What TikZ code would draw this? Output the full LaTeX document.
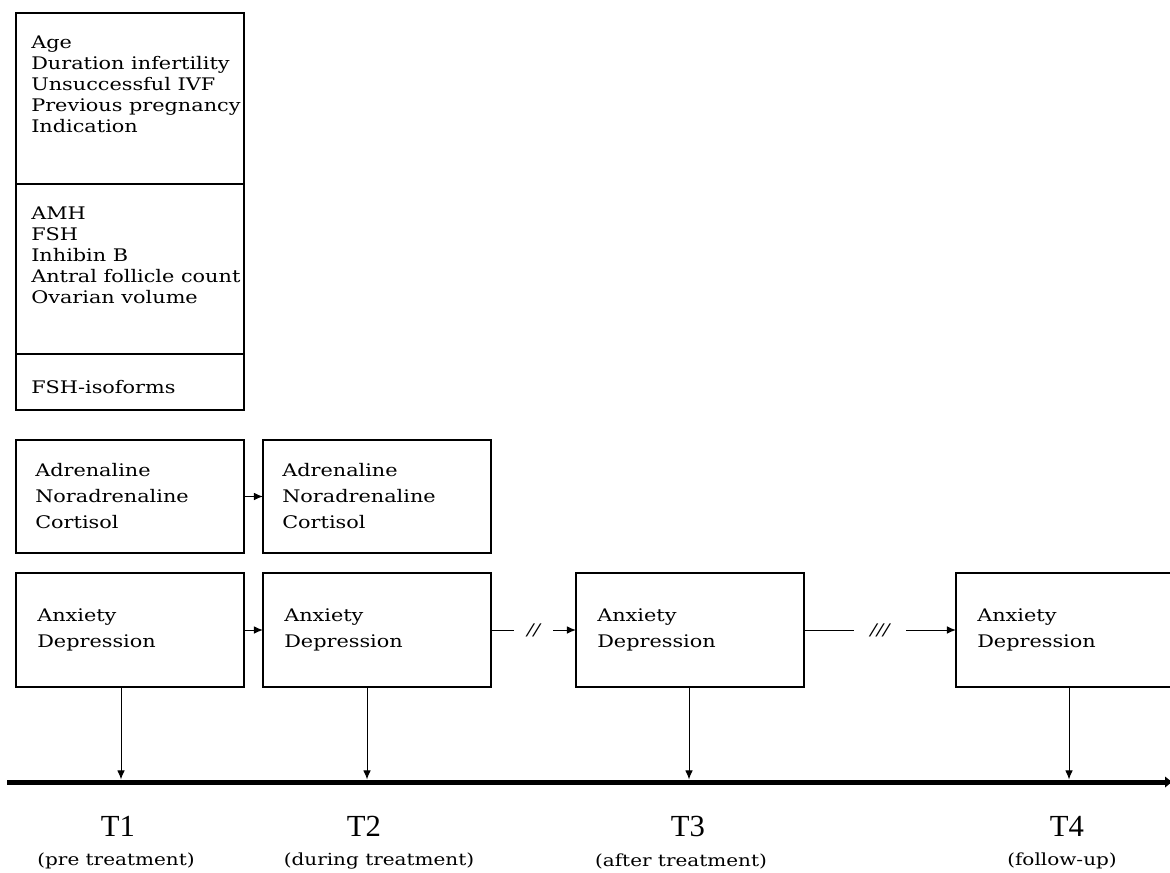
\documentclass[tikz,border=0pt]{standalone}
\usepackage{fontspec}
\setmainfont[FakeStretch=1.2]{DejaVu Serif}
\newfontfamily\labelfont{Liberation Serif}
\usepackage{tikz}
\usetikzlibrary{positioning, chains}
\usetikzlibrary{arrows.meta}
\tikzset{>={Latex[width=2mm,length=2.4mm]}}

\begin{document}
\begin{tikzpicture}[
    x=0.75pt, y=-0.75pt,
    node distance = 0mm,
    start chain = going below,
    box/.style = {draw, line width=0.9pt, minimum width=171pt,
        inner sep=0pt, outer sep=0mm},
    sec/.style = {box, on chain},
    txt/.style = {inner sep=0pt, align=left,
        font=\fontsize{13}{15.75}\selectfont},
    bigtxt/.style = {txt, font=\fontsize{13}{19.5}\selectfont},
    link/.style = {->, line width=0.75pt},
    gap/.style = {fill=white, inner xsep=9.75pt, inner ysep=2pt,
        font=\fontsize{12}{14}\selectfont\itshape},
    time/.style = {font=\labelfont\fontsize{23}{23}\selectfont},
    when/.style = {font=\fontsize{12.5}{14}\selectfont}
  ]
  \useasboundingbox (0,0) rectangle (1170,873);

  % patient data, ovarian reserve, isoforms
  \node[sec, minimum height=128.25pt, anchor=north west] (PAT) at (16,13) {};
  \node[sec, minimum height=127.5pt] (RES) {};
  \node[sec, minimum height=42pt] (ISO) {};

  \node[txt, below right=17.25pt and 11.25pt of PAT.north west] (PATtxt)
    {Age\\Duration infertility\\Unsuccessful IVF\\Previous pregnancy\\Indication};
  \node[txt, below right=17.25pt and 11.25pt of RES.north west] (REStxt)
    {AMH\\FSH\\Inhibin B\\Antral follicle count\\Ovarian volume};
  \node[txt, below right=19.5pt and 11.25pt of ISO.north west] (ISOtxt)
    {FSH-isoforms};

  % stress hormones
  \node[box, minimum height=84.75pt, anchor=north west] (HOR1) at (16,440) {};
  \node[box, minimum height=84.75pt, right=14.25pt of HOR1] (HOR2) {};
  \foreach \h in {HOR1, HOR2}
    \node[bigtxt, below right=17.25pt and 14.25pt of \h.north west] (\h txt)
      {Adrenaline\\Noradrenaline\\Cortisol};

  % questionnaires
  \node[box, minimum height=85.5pt, anchor=north west] (PSY1) at (16,573) {};
  \node[box, minimum height=85.5pt, right=14.25pt of PSY1] (PSY2) {};
  \node[box, minimum height=85.5pt, right=63.75pt of PSY2] (PSY3) {};
  \node[box, minimum height=85.5pt, right=114pt of PSY3] (PSY4) {};
  \foreach \p in {PSY1, PSY2, PSY3, PSY4}
    \node[bigtxt, below right=26.25pt and 15.75pt of \p.north west] (\p txt)
      {Anxiety\\Depression};

  \draw[link] (HOR1) -- (HOR2);
  \draw[link] (PSY1) -- (PSY2);
  \draw[link] (PSY2) -- node[gap] {//} (PSY3);
  \draw[link] (PSY3) -- node[gap, inner xsep=12pt] {///} (PSY4);

  % time axis
  \coordinate (L0) at (7,782);
  \coordinate (L1) at (1173,782);
  \draw[line width=3.75pt, -{Latex[length=6pt,width=9pt]}] (L0) -- (L1);

  \foreach \b/\x/\tx/\t/\wx/\w [count=\i] in {
      PSY1/121/118/T1/116/{(pre treatment)},
      PSY2/367/364/T2/379/{(during treatment)},
      PSY3/689/688/T3/681/{(after treatment)},
      PSY4/1069/1067/T4/1062/{(follow-up)}} {
    \coordinate (P\i) at (\x,779.5);
    \draw[link] (\b.south -| P\i) -- (P\i);
    \node[time] (T\i) at (\tx,826) {\t};
    \node[when] (W\i) at (\wx,861) {\w};
  }
\end{tikzpicture}
\end{document}
